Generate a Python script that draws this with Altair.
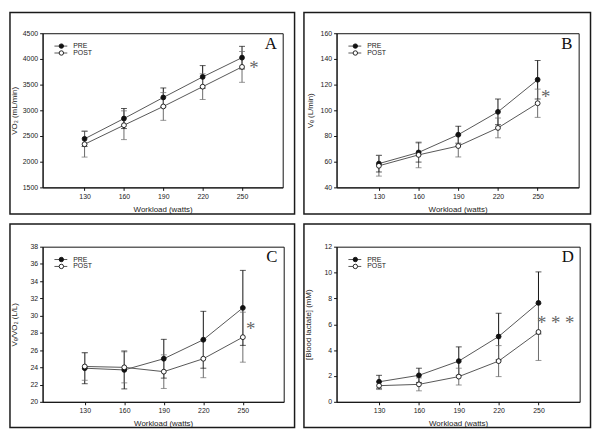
import altair as alt
import pandas as pd

watts = [130, 160, 190, 220, 250]
series = ["PRE", "POST"]

vo2_pre = [2445, 2840, 3250, 3650, 4025]
vo2_pre_sd = [150, 195, 185, 220, 220]
vo2_post = [2340, 2710, 3075, 3460, 3845]
vo2_post_sd = [250, 280, 270, 250, 300]

ve_pre = [58.5, 67.2, 81.0, 98.8, 123.8]
ve_pre_sd = [6.5, 7.5, 6.6, 10.0, 15.0]
ve_post = [56.8, 65.3, 72.2, 86.3, 105.5]
ve_post_sd = [8.0, 10.0, 8.5, 7.7, 11.0]

eq_pre = [23.9, 23.7, 25.0, 27.2, 30.9]
eq_pre_sd = [1.8, 2.2, 2.25, 3.3, 4.35]
eq_post = [24.1, 24.0, 23.5, 25.0, 27.5]
eq_post_sd = [1.6, 1.8, 1.95, 2.2, 2.9]

la_pre = [1.55, 2.05, 3.15, 5.05, 7.65]
la_pre_sd = [0.5, 0.55, 1.1, 1.8, 2.4]
la_post = [1.25, 1.35, 1.95, 3.15, 5.4]
la_post_sd = [0.3, 0.5, 0.65, 1.2, 2.2]

letters = ["A", "B", "C", "D"]
y_titles = ["VO₂ (mL/min)", "Vₑ (L/min)", "Vₑ/VO₂ (L/L)", "[Blood lactate] (mM)"]
y_domains = [[1500, 4500], [40, 160], [20, 38], [0, 12]]
y_steps = [500, 20, 2, 2]
star_texts = ["*", "*", "*", "* * *"]
star_x = [259, 256, 256, 263]
star_y = [3920, 114, 29.0, 6.5]

means = [(vo2_pre, vo2_post), (ve_pre, ve_post), (eq_pre, eq_post), (la_pre, la_post)]
sds = [(vo2_pre_sd, vo2_post_sd), (ve_pre_sd, ve_post_sd), (eq_pre_sd, eq_post_sd), (la_pre_sd, la_post_sd)]

# panel geometry: plot width, height, frame offsets (left, right, top, bottom), y title x
geoms = [
    dict(w=243, h=156, L=33, R=12, T=21, B=27, tx=-28.5),
    dict(w=245, h=156, L=33, R=12, T=21, B=27, tx=-26),
    dict(w=244, h=157, L=33, R=11, T=23, B=26, tx=-28.5),
    dict(w=246, h=157, L=33, R=11, T=23, B=26, tx=-28),
]

one = alt.Data(values=[{"k": 1}])
FONT = "Liberation Sans"


def panel(i):
    g = geoms[i]
    rows = []
    for s, m, sd in zip(series, means[i], sds[i]):
        for wv, mv, sv in zip(watts, m, sd):
            rows.append({"watts": wv, "series": s, "mean": mv, "lo": mv - sv, "hi": mv + sv})
    df = pd.DataFrame(rows)
    lo, hi = y_domains[i]
    step = y_steps[i]
    yvals = []
    v = lo
    while v <= hi + 1e-9:
        yvals.append(v)
        v += step

    xs = alt.Scale(domain=[98, 281], nice=False, zero=False)
    xa = alt.Axis(values=watts, title="Workload (watts)", labelPadding=2, format="d",
                  titleX=g["w"] / 2, titleY=18, titleBaseline="top", titleAlign="center")
    ys = alt.Scale(domain=y_domains[i], nice=False, zero=False)
    ya = alt.Axis(values=yvals, title=y_titles[i], labelPadding=2, format="d",
                  titleX=g["tx"], titleY=g["h"] / 2, titleBaseline="middle", titleAlign="center",
                  titleAngle=270)

    X = alt.X("watts:Q", scale=xs, axis=xa)
    ecol = alt.Color("series:N", scale=alt.Scale(domain=series, range=["#111111", "#6a6a6a"]), legend=None)

    base = alt.Chart(df)
    frame = alt.Chart(one).mark_rect(fill="white", fillOpacity=0, stroke="#1a1a1a", strokeWidth=1.5).encode(
        x=alt.value(-g["L"]), x2=alt.value(g["w"] + g["R"]),
        y=alt.value(-g["T"]), y2=alt.value(g["h"] + g["B"]))
    bars = base.mark_rule(strokeWidth=1).encode(
        x=X, y=alt.Y("lo:Q", scale=ys, axis=ya), y2="hi:Q", color=ecol)
    cap_hi = base.mark_tick(orient="horizontal", size=6, thickness=1).encode(
        x=X, y=alt.Y("hi:Q", scale=ys, axis=ya), color=ecol)
    cap_lo = base.mark_tick(orient="horizontal", size=6, thickness=1).encode(
        x=X, y=alt.Y("lo:Q", scale=ys, axis=ya), color=ecol)
    lines = base.mark_line(strokeWidth=1, color="#555555").encode(
        x=X, y=alt.Y("mean:Q", scale=ys, axis=ya), detail="series:N")
    pts = base.mark_circle(size=24, stroke="#111111", strokeWidth=0.9, opacity=1).encode(
        x=X, y=alt.Y("mean:Q", scale=ys, axis=ya),
        fill=alt.Fill("series:N", scale=alt.Scale(domain=series, range=["#111111", "white"]), legend=None))
    stars = alt.Chart(pd.DataFrame({"watts": [star_x[i]], "mean": [star_y[i]], "t": [star_texts[i]]})).mark_text(
        font="Liberation Serif", fontSize=19, color="#666666", baseline="middle", dy=5).encode(
        x=X, y=alt.Y("mean:Q", scale=ys, axis=ya), text="t:N")
    letter = alt.Chart(one).mark_text(font="Liberation Serif", fontSize=17, color="#111111",
                                      align="center", baseline="middle").encode(
        x=alt.value(g["w"] - 12), y=alt.value(11), text=alt.value(letters[i]))

    leg = []
    fills = ["#111111", "white"]
    for k, s in enumerate(series):
        yy = 13 + 7 * k
        leg.append(alt.Chart(one).mark_rule(color="#555555", strokeWidth=1).encode(
            x=alt.value(12), x2=alt.value(25), y=alt.value(yy)))
        leg.append(alt.Chart(one).mark_circle(size=20, stroke="#111111", strokeWidth=0.9, opacity=1).encode(
            x=alt.value(19), y=alt.value(yy), fill=alt.value(fills[k])))
        leg.append(alt.Chart(one).mark_text(font=FONT, fontSize=7, color="#222222", align="left",
                                            baseline="middle").encode(
            x=alt.value(31), y=alt.value(yy), text=alt.value(s)))

    return alt.layer(frame, bars, cap_hi, cap_lo, lines, pts, stars, letter, *leg).properties(
        width=g["w"], height=g["h"])


left_col = alt.vconcat(panel(0), panel(2), spacing=60, bounds="flush")
right_col = alt.vconcat(panel(1), panel(3), spacing=60, bounds="flush")
chart = alt.hconcat(left_col, right_col, spacing=5.5).properties(padding=0).configure_view(
    stroke="#111111", strokeWidth=1
).configure_axis(
    grid=False, domainColor="#111111", tickColor="#111111", tickSize=3,
    labelFont=FONT, labelFontSize=7, labelColor="#222222",
    titleFont=FONT, titleFontSize=8, titleFontWeight="normal", titleColor="#222222"
)

chart.save("out.html", embed_options={"renderer": "svg", "actions": False})
